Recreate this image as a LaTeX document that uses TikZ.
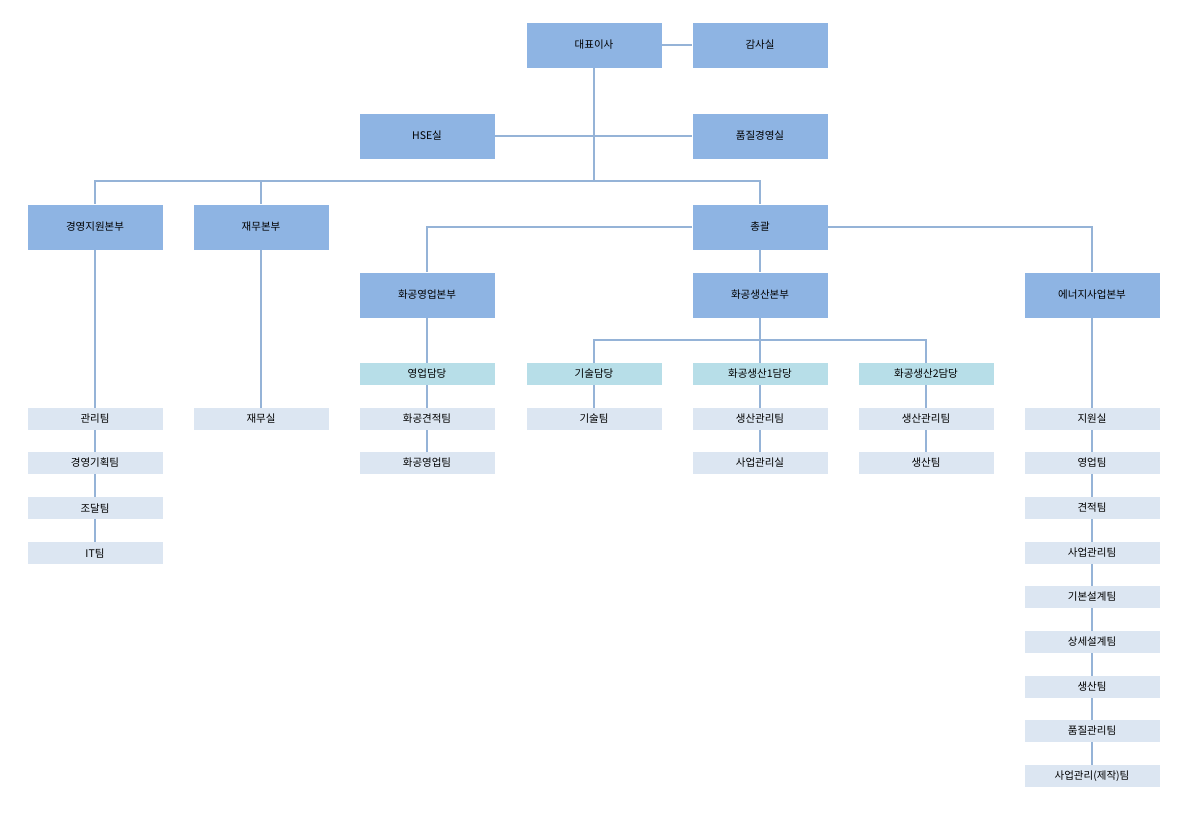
\documentclass[tikz,border=0pt]{standalone}
\usepackage{fontspec}
\setmainfont{Noto Sans CJK KR}
\usetikzlibrary{backgrounds}
\definecolor{dk}{HTML}{8EB4E3}
\definecolor{tl}{HTML}{B7DEE8}
\definecolor{gr}{HTML}{DCE6F2}
\definecolor{ln}{HTML}{95B3D7}
\begin{document}
\begin{tikzpicture}[x=1pt,y=-1pt,
  big/.style={fill=dk,minimum width=135pt,minimum height=45pt,inner sep=0pt,font=\fontsize{10.5}{12}\selectfont},
  mid/.style={fill=tl,minimum width=135pt,minimum height=22pt,inner sep=0pt,font=\fontsize{10.5}{12}\selectfont},
  sm/.style={fill=gr,minimum width=135pt,minimum height=22pt,inner sep=0pt,font=\fontsize{10.5}{12}\selectfont},
  cn/.style={draw=ln,line width=1.5pt}]
\useasboundingbox (0,0) rectangle (1191,812);
\node[big] (ceo) at (594,45) {대표이사};
\node[big] (audit) at (760,45) {감사실};
\node[big] (hse) at (427,136) {HSE실};
\node[big] (qm) at (760,136) {품질경영실};
\node[big] (ms) at (95,227) {경영지원본부};
\node[big] (fin) at (261,227) {재무본부};
\node[big] (gen) at (760,227) {총괄};
\node[big] (sales) at (427,295) {화공영업본부};
\node[big] (prod) at (760,295) {화공생산본부};
\node[big] (ene) at (1092,295) {에너지사업본부};
\node[mid] (s1) at (427,374) {영업담당};
\node[mid] (t1) at (594,374) {기술담당};
\node[mid] (p1) at (760,374) {화공생산1담당};
\node[mid] (p2) at (926,374) {화공생산2담당};
\node[sm] (m1) at (95,419) {관리팀};
\node[sm] (m2) at (95,463) {경영기획팀};
\node[sm] (m3) at (95,508) {조달팀};
\node[sm] (m4) at (95,553) {IT팀};
\node[sm] (f1) at (261,419) {재무실};
\node[sm] (s2) at (427,419) {화공견적팀};
\node[sm] (s3) at (427,463) {화공영업팀};
\node[sm] (t2) at (594,419) {기술팀};
\node[sm] (p11) at (760,419) {생산관리팀};
\node[sm] (p12) at (760,463) {사업관리실};
\node[sm] (p21) at (926,419) {생산관리팀};
\node[sm] (p22) at (926,463) {생산팀};
\node[sm] (e1) at (1092,419) {지원실};
\node[sm] (e2) at (1092,463) {영업팀};
\node[sm] (e3) at (1092,508) {견적팀};
\node[sm] (e4) at (1092,553) {사업관리팀};
\node[sm] (e5) at (1092,597) {기본설계팀};
\node[sm] (e6) at (1092,642) {상세설계팀};
\node[sm] (e7) at (1092,687) {생산팀};
\node[sm] (e8) at (1092,731) {품질관리팀};
\node[sm] (e9) at (1092,776) {사업관리(제작)팀};
\coordinate (j1) at (594,181);
\coordinate (j2) at (760,340);
\begin{scope}[on background layer]
\draw[cn] (ceo) -- (audit);
\draw[cn] (hse) -- (qm);
\draw[cn] (ceo) -- (j1);
\draw[cn] (j1) -| (ms);
\draw[cn] (j1) -| (fin);
\draw[cn] (j1) -| (gen);
\draw[cn] (gen) -| (sales);
\draw[cn] (gen) -| (ene);
\draw[cn] (gen) -- (prod);
\draw[cn] (prod) -- (j2);
\draw[cn] (j2) -| (t1);
\draw[cn] (j2) -| (p2);
\draw[cn] (j2) -- (p1);
\draw[cn] (ms) -- (m4);
\draw[cn] (fin) -- (f1);
\draw[cn] (sales) -- (s3);
\draw[cn] (t1) -- (t2);
\draw[cn] (p1) -- (p12);
\draw[cn] (p2) -- (p22);
\draw[cn] (ene) -- (e9);
\end{scope}
\end{tikzpicture}
\end{document}
